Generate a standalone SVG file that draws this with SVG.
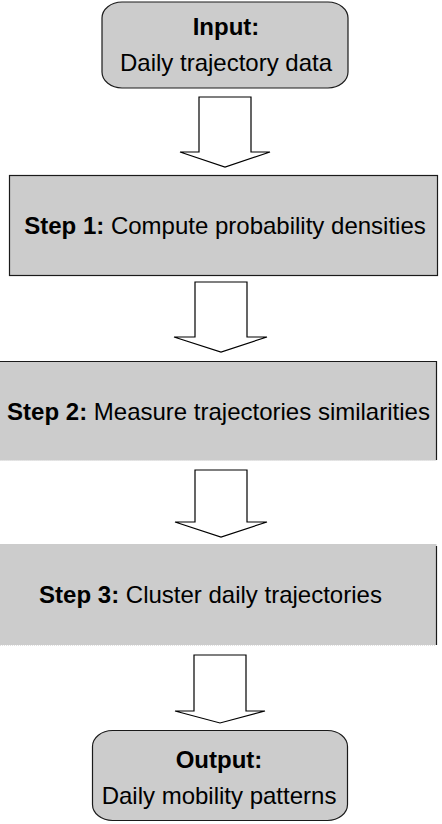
<svg xmlns="http://www.w3.org/2000/svg" width="442" height="824" viewBox="0 0 442 824">
<style>
.box{fill:#cccccc;stroke:#1a1a1a;stroke-width:1.2}
.fill{fill:#cccccc;stroke:none}
.edge{fill:none;stroke:#1a1a1a;stroke-width:1.2}
.faint{fill:none;stroke:#e2e2e2;stroke-width:1}
.arrow{fill:#ffffff;stroke:#000000;stroke-width:1.2;stroke-linejoin:miter}
text{font-family:"Liberation Sans",Arial,sans-serif;font-size:24px;fill:#000000}
.b{font-weight:bold}
</style>
<rect width="442" height="824" fill="#ffffff"/>
<g id="input">
<rect class="box" x="102" y="2" width="246" height="86" rx="20" ry="16"/>
<text x="226" y="35" text-anchor="middle" class="b">Input:</text>
<text x="226" y="71" text-anchor="middle">Daily trajectory data</text>
</g>
<g id="step1">
<rect class="box" x="9.5" y="175.5" width="428" height="100"/>
<text x="225" y="234" text-anchor="middle"><tspan class="b">Step 1:</tspan> Compute probability densities</text>
</g>
<g id="step2">
<rect class="fill" x="0" y="361" width="436.5" height="99.5"/>
<path class="edge" d="M0 361.5H436.5V460"/>
<path class="faint" d="M0 460.5H436" stroke-dasharray="1 1"/>
<text x="218.5" y="420" text-anchor="middle"><tspan class="b">Step 2:</tspan> Measure trajectories similarities</text>
</g>
<g id="step3">
<rect class="fill" x="0" y="544" width="436.5" height="101"/>
<path class="edge" d="M436.5 546V645"/>
<path class="faint" d="M0 645.5H436" stroke-dasharray="1 1"/>
<text x="210.5" y="603" text-anchor="middle"><tspan class="b">Step 3:</tspan> Cluster daily trajectories</text>
</g>
<g id="output">
<rect class="box" x="92.5" y="730.5" width="255" height="90" rx="20" ry="16"/>
<text x="219" y="768" text-anchor="middle" class="b">Output:</text>
<text x="219" y="804" text-anchor="middle">Daily mobility patterns</text>
</g>
<g id="connectors">
<path class="arrow" d="M199 97H251V152H270L225 167L180 152H199Z"/>
<path class="arrow" d="M195 282H247V337H267L221 352L174 337H195Z"/>
<path class="arrow" d="M195 470H247V522H267L221 537L175 522H195Z"/>
<path class="arrow" d="M194 655H246V711H265L220 723L175 711H194Z"/>
</g>
</svg>
